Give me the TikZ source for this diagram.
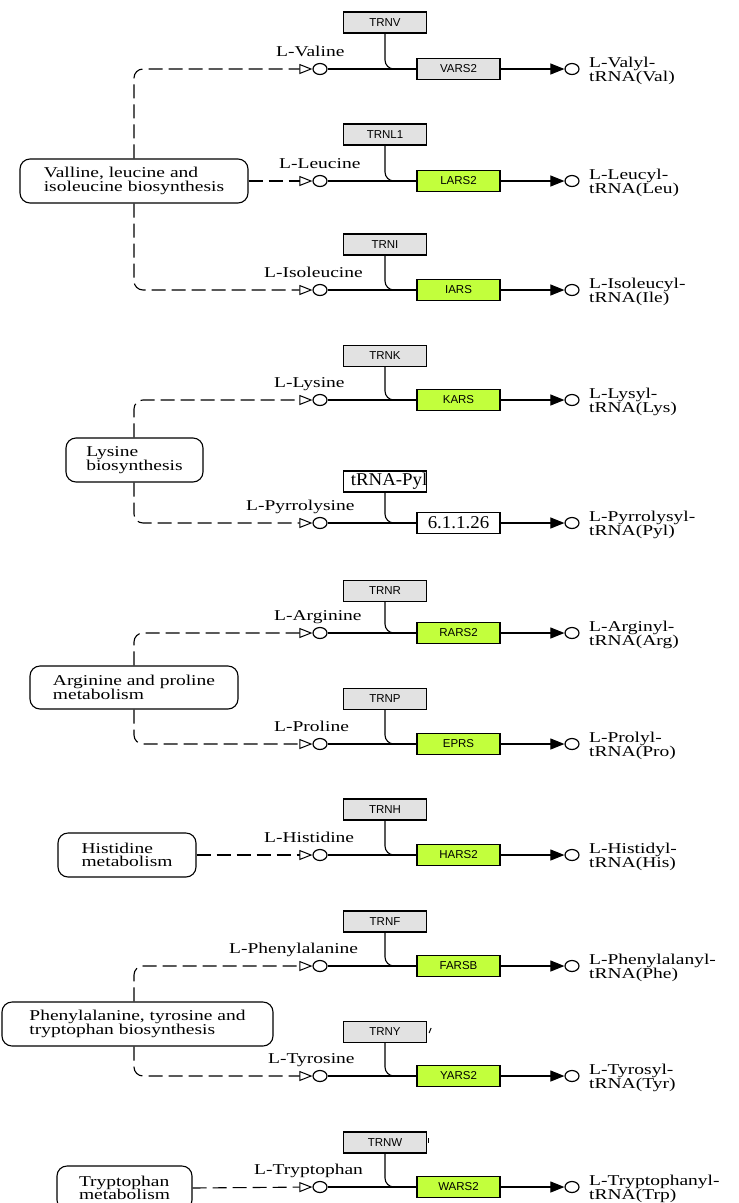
\documentclass[tikz,border=0pt]{standalone}
\usepackage{fontspec}
\setmainfont{Liberation Serif}[FakeStretch=1.3]
\newfontfamily\genefont{Liberation Sans}
\newfontfamily\ecfont{Liberation Serif}[FakeStretch=1.05]
\usetikzlibrary{shapes.geometric,arrows.meta}
\definecolor{trngray}{RGB}{226,226,226}
\definecolor{hitgreen}{RGB}{194,255,60}
\newcommand\labfont{\fontsize{15}{15}\selectfont}
\newcommand\twolines[3]{\vbox{\baselineskip=#1pt\lineskiplimit=-30pt\hbox{#2}\hbox{#3}}}
\tikzset{
  genebox/.style={draw=black, line width=1.2pt, minimum width=83pt, minimum height=21pt, inner sep=0pt,
    font=\genefont\fontsize{11.5}{11.5}\selectfont},
  trnbox/.style={genebox, fill=trngray},
  hitbox/.style={genebox, fill=hitgreen},
  ecbox/.style={genebox, fill=white, font=\ecfont\fontsize{18}{18}\selectfont},
  cpd/.style={ellipse, draw=black, fill=white, line width=1.2pt, minimum width=14pt, minimum height=11pt, inner sep=0pt},
  cpdlab/.style={anchor=base west, inner sep=0pt, font=\labfont},
  pathway/.style={draw=black, line width=1.1pt, rounded corners=10pt, inner sep=0pt, font=\labfont},
  rxn/.style={line width=1.1pt, draw=black},
  mapline/.style={line width=1.1pt, draw=black, dash pattern=on 14pt off 6pt, rounded corners=9pt,
    -{Triangle[open, length=13pt, width=10pt, line width=1pt]}},
  prodarrow/.style={rxn, -{Triangle[length=14pt, width=11pt]}},
}
% #1 id, #2 row y, #3 trn y, #4 trn text, #5 gene style, #6 gene text, #7 label x, #8 label
\newcommand\mkrow[8]{%
  \node[trnbox] (t#1) at (385,#3) {#4};
  \node[#5] (g#1) at (458.5,#2) {#6};
  \node[cpd] (c#1) at (320,#2) {};
  \node[cpd] (p#1) at (572,#2) {};
  \node[cpdlab] (l#1) at (#7,#2-13) {#8};
  \coordinate (j#1) at (400,#2);
  \draw[rxn] (c#1) -- (g#1);
  \draw[rxn, rounded corners=9pt] (t#1.south) |- (j#1);
  \draw[prodarrow] (g#1) -- (p#1);
}
% #1 id, #2 row y, #3 line 1, #4 line 2
\newcommand\mkprod[4]{%
  \node[anchor=base west, inner sep=0pt, font=\labfont] (q#1) at (589,#2-1.5)
    {\vtop{\baselineskip=14pt\lineskiplimit=-30pt\hbox{#3}\hbox{#4}}};
}
\begin{document}
\begin{tikzpicture}[x=1pt,y=-1pt]
\useasboundingbox (0,0) rectangle (739,1203);
\clip (0,0) rectangle (739,1203);
\coordinate (vx) at (134,0);

% reaction rows
\mkrow{Val}{69}{22.5}{TRNV}{trnbox}{VARS2}{276}{L-Valine}
\mkprod{Val}{69}{L-Valyl-}{tRNA(Val)}
\mkrow{Leu}{181}{134.5}{TRNL1}{hitbox}{LARS2}{279}{L-Leucine}
\mkprod{Leu}{181}{L-Leucyl-}{tRNA(Leu)}
\mkrow{Ile}{290}{244.5}{TRNI}{hitbox}{IARS}{264}{L-Isoleucine}
\mkprod{Ile}{290}{L-Isoleucyl-}{tRNA(Ile)}
\mkrow{Lys}{400}{356}{TRNK}{hitbox}{KARS}{274}{L-Lysine}
\mkprod{Lys}{400}{L-Lysyl-}{tRNA(Lys)}

% pyrrolysine row (white boxes)
\node[ecbox, path picture={\node[anchor=west, inner sep=0pt, font=\ecfont\fontsize{18}{18}\selectfont]
    at ([xshift=3.5pt]path picture bounding box.west) {tRNA-Pyl};}] (tPyl) at (385,481.5) {};
\node[ecbox] (gPyl) at (458.5,523) {6.1.1.26};
\node[cpd] (cPyl) at (320,523) {};
\node[cpd] (pPyl) at (572,523) {};
\node[cpdlab] (lPyl) at (246,510) {L-Pyrrolysine};
\coordinate (jPyl) at (400,523);
\draw[rxn] (cPyl) -- (gPyl);
\draw[rxn, rounded corners=9pt] (tPyl.south) |- (jPyl);
\draw[prodarrow] (gPyl) -- (pPyl);
\mkprod{Pyl}{523}{L-Pyrrolysyl-}{tRNA(Pyl)}

\mkrow{Arg}{633}{591}{TRNR}{hitbox}{RARS2}{274}{L-Arginine}
\mkprod{Arg}{633}{L-Arginyl-}{tRNA(Arg)}
\mkrow{Pro}{744}{699}{TRNP}{hitbox}{EPRS}{274}{L-Proline}
\mkprod{Pro}{744}{L-Prolyl-}{tRNA(Pro)}
\mkrow{His}{855}{809.5}{TRNH}{hitbox}{HARS2}{264}{L-Histidine}
\mkprod{His}{855}{L-Histidyl-}{tRNA(His)}
\mkrow{Phe}{966}{921.5}{TRNF}{hitbox}{FARSB}{229}{L-Phenylalanine}
\mkprod{Phe}{966}{L-Phenylalanyl-}{tRNA(Phe)}
\mkrow{Tyr}{1076}{1032}{TRNY}{hitbox}{YARS2}{268}{L-Tyrosine}
\mkprod{Tyr}{1076}{L-Tyrosyl-}{tRNA(Tyr)}
\mkrow{Trp}{1187}{1142.5}{TRNW}{hitbox}{WARS2}{254}{L-Tryptophan}
\mkprod{Trp}{1187}{L-Tryptophanyl-}{tRNA(Trp)}

% small marks beside TRNY and TRNW
\draw[line width=1pt] (tTyr.east) ++(2pt,-1pt) -- ++(2pt,5pt);
\draw[line width=1.6pt] (tTrp.east) ++(1.5pt,0pt) -- ++(0pt,5pt);

% pathway maps
\node[pathway, minimum width=228pt, minimum height=44pt] (vlib) at (134,181)
  {\twolines{13.5}{Valline, leucine and}{isoleucine biosynthesis}};
\node[pathway, minimum width=137pt, minimum height=44pt] (lysb) at (134.5,460)
  {\twolines{13.5}{Lysine}{biosynthesis}};
\node[pathway, minimum width=208pt, minimum height=43pt] (argp) at (134,687.5)
  {\twolines{13.5}{Arginine and proline}{metabolism}};
\node[pathway, minimum width=138pt, minimum height=44pt] (hism) at (127,855)
  {\twolines{13.5}{Histidine}{metabolism}};
\node[pathway, minimum width=271pt, minimum height=44pt] (phet) at (137.5,1024)
  {\twolines{13.5}{Phenylalanine, tyrosine and}{tryptophan biosynthesis}};
\node[pathway, minimum width=135pt, minimum height=44pt] (trpm) at (124.5,1188)
  {\twolines{13.5}{Tryptophan}{metabolism}};

% dashed map links
\draw[mapline] (vx |- vlib.north) |- (cVal.west);
\draw[mapline] (vlib.east) -- (cLeu.west);
\draw[mapline] (vx |- vlib.south) |- (cIle.west);
\draw[mapline] (vx |- lysb.north) |- (cLys.west);
\draw[mapline] (vx |- lysb.south) |- (cPyl.west);
\draw[mapline] (vx |- argp.north) |- (cArg.west);
\draw[mapline] (vx |- argp.south) |- (cPro.west);
\draw[mapline] (hism.east) -- (cHis.west);
\draw[mapline] (vx |- phet.north) |- (cPhe.west);
\draw[mapline] (vx |- phet.south) |- (cTyr.west);
\draw[mapline] (trpm.east) -- (cTrp.west);
\end{tikzpicture}
\end{document}
